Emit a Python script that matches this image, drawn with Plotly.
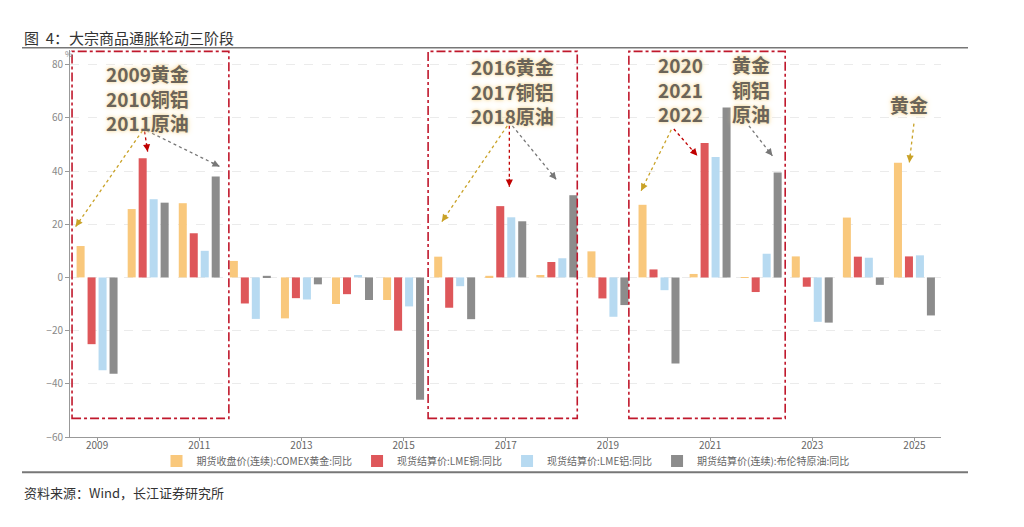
import plotly.graph_objects as go

# 数据（读自原图，单位 %）
years = list(range(2009, 2026))
gold = [11.8, 25.7, 27.9, 6.2, -15.4, -10.0, -8.5, 7.8, 0.6, 0.9, 9.8, 27.3, 1.3, -0.2, 7.9, 22.5, 43.1]
copper = [-25.1, 44.8, 16.6, -9.8, -7.8, -6.3, -20.0, -11.4, 26.8, 5.8, -7.9, 3.0, 50.5, -5.5, -3.5, 7.8, 7.9]
alu = [-34.9, 29.4, 10.0, -15.6, -8.3, 0.9, -10.9, -3.3, 22.6, 7.2, -14.8, -4.8, 45.3, 8.9, -16.7, 7.4, 8.3]
brent = [-36.2, 28.1, 37.9, 0.6, -2.6, -8.5, -46.0, -15.7, 21.1, 30.9, -10.4, -32.4, 63.9, 39.4, -17.0, -2.8, -14.3]

names = ['期货收盘价(连续):COMEX黄金:同比', '现货结算价:LME铜:同比',
         '现货结算价:LME铝:同比', '期货结算价(连续):布伦特原油:同比']
colors = ['#F9C87C', '#DE575A', '#B7DAF1', '#8C8C8C']
tick_years = list(range(2009, 2026, 2))

# 三个阶段的框（年份区间）
boxes = [(2008.51, 2011.58), (2015.48, 2018.40), (2019.41, 2022.47)]

# 文字标注: (x, y, text)
labels = [
    (2009.99, 67.4, '2009黄金<br>2010铜铝<br>2011原油'),
    (2017.14, 70.0, '2016黄金<br>2017铜铝<br>2018原油'),
    (2020.43, 70.9, '2020<br>2021<br>2022'),
    (2021.80, 70.9, '黄金<br>铜铝<br>原油'),
    (2024.90, 65.1, '黄金'),
]

# 箭头: (x0, y0, x1, y1, 颜色)
arrows = [
    (2009.89, 55.2, 2008.58, 19.1, '#C9A227'),
    (2009.93, 54.9, 2009.99, 47.3, '#C00000'),
    (2009.97, 55.2, 2011.40, 41.7, '#777777'),
    (2017.03, 57.0, 2015.75, 21.0, '#C9A227'),
    (2017.07, 57.0, 2017.07, 34.1, '#C00000'),
    (2017.13, 57.0, 2017.99, 36.8, '#777777'),
    (2020.24, 55.5, 2019.65, 32.6, '#C9A227'),
    (2020.29, 55.8, 2020.75, 45.7, '#C00000'),
    (2021.76, 57.0, 2022.22, 45.7, '#777777'),
    (2024.99, 57.8, 2024.90, 43.2, '#C9A227'),
]

# 页面 body 默认有 8px 边距，图整体左上移 8px
OFF = 8
W, H = 1024 - OFF, 527 - OFF
L, R, T, B = 70 - OFF, 83, 50 - OFF, 90
x_range = [2008.47, 2025.52]
y_range = [-60, 85.5]
pw, ph = W - L - R, H - T - B
sx = pw / (x_range[1] - x_range[0])
sy = ph / (y_range[1] - y_range[0])


def paper_x(px):
    return (px - OFF - L) / pw


def paper_y(py):
    return (H - B - (py - OFF)) / ph


fig = go.Figure()
for vals, name, c in zip([gold, copper, alu, brent], names, colors):
    fig.add_trace(go.Bar(x=years, y=vals, name=name, marker=dict(color=c, line=dict(width=0))))

shapes = []
for x0, x1 in boxes:
    shapes.append(dict(type='rect', xref='x', yref='y', x0=x0, x1=x1, y0=-53, y1=85,
                       line=dict(color='#C0182C', width=1.6, dash='dashdot'), layer='above'))

annotations = []
for x, y, t in labels:
    annotations.append(dict(x=x, y=y, xref='x', yref='y', text=t, showarrow=False,
                            xanchor='center', yanchor='middle', align='center',
                            font=dict(family='Noto Sans CJK SC', size=19, color='#6B6459', weight='bold',
                                      shadow='0px 0px 3px #F6DA9A, 0px 0px 6px #F8E2B2')))

for x0, y0, x1, y1, c in arrows:
    shapes.append(dict(type='line', xref='x', yref='y', x0=x0, y0=y0, x1=x1, y1=y1,
                       line=dict(color=c, width=1.3, dash='dot'), layer='above'))
    # 箭头头部
    dx, dy = (x1 - x0) * sx, -(y1 - y0) * sy
    n = (dx ** 2 + dy ** 2) ** 0.5
    annotations.append(dict(x=x1, y=y1, xref='x', yref='y', text=' ', showarrow=True,
                            ax=-dx / n * 10, ay=-dy / n * 10, arrowhead=2, arrowsize=1.1,
                            arrowwidth=1.3, arrowcolor=c, standoff=0, startstandoff=0,
                            font=dict(size=1)))

# 标题、来源、单位
annotations.append(dict(x=paper_x(22), y=paper_y(37), xref='paper', yref='paper', showarrow=False,
                        text='图&nbsp;&nbsp;4：大宗商品通胀轮动三阶段', xanchor='left', yanchor='middle',
                        font=dict(family='Noto Sans CJK SC', size=15, color='#333333')))
annotations.append(dict(x=paper_x(22), y=paper_y(492), xref='paper', yref='paper', showarrow=False,
                        text='资料来源：Wind，长江证券研究所', xanchor='left', yanchor='middle',
                        font=dict(family='Noto Sans CJK SC', size=13, color='#333333')))
annotations.append(dict(x=paper_x(69), y=paper_y(54), xref='paper', yref='paper', showarrow=False,
                        text='%', xanchor='center', yanchor='middle',
                        font=dict(size=8, color='#888888')))

shapes.append(dict(type='line', xref='paper', yref='paper', x0=paper_x(22), x1=paper_x(968),
                   y0=paper_y(47.7), y1=paper_y(47.7), line=dict(color='#777777', width=1.5)))
shapes.append(dict(type='line', xref='paper', yref='paper', x0=paper_x(22), x1=paper_x(968),
                   y0=paper_y(472.3), y1=paper_y(472.3), line=dict(color='#777777', width=2)))

fig.update_layout(
    width=W, height=H,
    margin=dict(l=L, r=R, t=T, b=B),
    barmode='group', bargap=0.14, bargroupgap=0.27,
    plot_bgcolor='#ffffff', paper_bgcolor='#ffffff',
    font=dict(family='Noto Sans CJK SC', color='#666666'),
    xaxis=dict(range=x_range, tickvals=tick_years, ticktext=[str(y) for y in tick_years],
               showgrid=False, showline=True, linecolor='#999999', linewidth=1,
               ticks='outside', ticklen=3, tickcolor='#999999', ticklabelstandoff=-4,
               tickfont=dict(size=10, color='#666666'), zeroline=False),
    yaxis=dict(range=y_range, tickvals=[-60, -40, -20, 0, 20, 40, 60, 80],
               showgrid=True, gridcolor='#EBEBEB', griddash='dash', gridwidth=1,
               showline=True, linecolor='#999999', linewidth=1,
               ticks='outside', ticklen=4, tickcolor='#999999',
               tickfont=dict(size=10, color='#888888'), zeroline=False),
    legend=dict(orientation='h', x=0.5, xanchor='center', y=paper_y(461), yanchor='middle',
                bgcolor='rgba(0,0,0,0)', tracegroupgap=0,
                font=dict(size=10, color='#666666'), itemsizing='constant', traceorder='normal'),
    shapes=shapes,
    annotations=annotations,
)

fig.write_html("out.html")
